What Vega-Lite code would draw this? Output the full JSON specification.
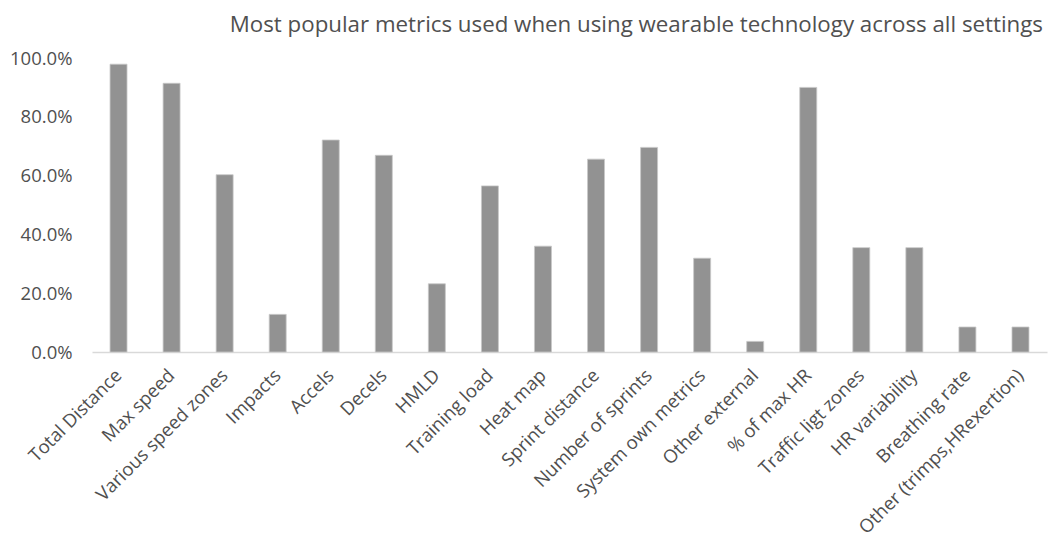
{
  "$schema": "https://vega.github.io/schema/vega-lite/v6.json",
  "width": 955,
  "height": 294,
  "autosize": {"type": "none"},
  "padding": {"left": 92, "top": 58, "right": 8, "bottom": 190},
  "background": "white",
  "title": {
    "text": "Most popular metrics used when using wearable technology across all settings",
    "anchor": "end",
    "dx": -4,
    "offset": 13,
    "fontSize": 22.3,
    "font": "Open Sans",
    "fontWeight": "normal",
    "color": "#505050"
  },
  "data": {
    "values": [
      {"metric": "Total Distance", "pct": 0.979},
      {"metric": "Max speed", "pct": 0.914},
      {"metric": "Various speed zones", "pct": 0.603},
      {"metric": "Impacts", "pct": 0.128},
      {"metric": "Accels", "pct": 0.721},
      {"metric": "Decels", "pct": 0.669},
      {"metric": "HMLD", "pct": 0.232},
      {"metric": "Training load", "pct": 0.565},
      {"metric": "Heat map", "pct": 0.36},
      {"metric": "Sprint distance", "pct": 0.656},
      {"metric": "Number of sprints", "pct": 0.696},
      {"metric": "System own metrics", "pct": 0.319},
      {"metric": "Other external", "pct": 0.036},
      {"metric": "% of max HR", "pct": 0.9},
      {"metric": "Traffic ligt zones", "pct": 0.355},
      {"metric": "HR variability", "pct": 0.355},
      {"metric": "Breathing rate", "pct": 0.085},
      {"metric": "Other (trimps,HRexertion)", "pct": 0.085}
    ]
  },
  "mark": {"type": "bar", "color": "#929292", "stroke": "#c8c8c8", "strokeWidth": 0.8},
  "encoding": {
    "x": {
      "field": "metric",
      "type": "nominal",
      "sort": null,
      "scale": {"paddingInner": 0.68, "paddingOuter": 0.34},
      "axis": {
        "title": null,
        "labelAngle": -45,
        "labelAlign": "right",
        "labelBaseline": "middle",
        "labelFontSize": 18.5,
        "labelFont": "Open Sans",
        "labelColor": "#505050",
        "labelPadding": 20,
        "ticks": false,
        "domainColor": "#d9d9d9",
        "domainWidth": 1.5,
        "labelLimit": 400
      }
    },
    "y": {
      "field": "pct",
      "type": "quantitative",
      "scale": {"domain": [0, 1]},
      "axis": {
        "title": null,
        "format": ".1%",
        "values": [0, 0.2, 0.4, 0.6, 0.8, 1.0],
        "grid": false,
        "domain": false,
        "ticks": false,
        "labelFontSize": 18.5,
        "labelFont": "Open Sans",
        "labelColor": "#505050",
        "labelPadding": 20
      }
    }
  },
  "config": {"view": {"stroke": null}}
}
